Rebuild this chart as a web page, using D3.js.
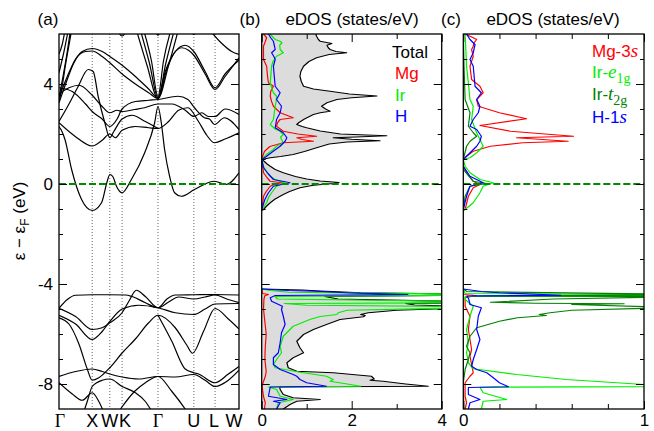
<!DOCTYPE html>
<html><head><meta charset="utf-8">
<script src="https://cdn.jsdelivr.net/npm/d3@7"></script>
<style>
body{margin:0;background:#fff}
svg{display:block}
</style>
</head><body>
<svg id="chart" width="654" height="431"></svg>
<script>
// ---------------- DATA ----------------
const kPoints = [0, 1.0, 1.53, 1.9, 2.98, 4.06, 4.7, 5.42];
const kLabels = ["Γ", "X", "W", "K", "Γ", "U", "L", "W"];
const yMajorTicks = [-8, -4, 0, 4];
const dosTicksB = [0, 2, 4];
const dosTicksC = [0, 1];

// band structure, lower (Ir-d / H-s) manifold: [k, E]
const bandsLower = [
  [[0,-4.97],[0.25,-4.62],[0.5,-4.45],[1,-4.43],[1.53,-4.43],[2.0,-4.44],[2.2,-4.5],[2.6,-4.75],[2.98,-4.95],[3.25,-4.6],[3.5,-4.44],[4.06,-4.43],[4.7,-4.42],[5.42,-4.44]],
  [[0,-4.97],[0.5,-5.3],[1.0,-5.82],[1.3,-5.75],[1.53,-5.55],[1.9,-5.15],[2.1,-4.7],[2.33,-4.25],[2.6,-4.5],[2.98,-4.95],[3.3,-4.72],[3.6,-4.52],[4.06,-4.6],[4.4,-4.52],[4.7,-4.44],[5.05,-4.6],[5.42,-4.75]],
  [[0,-5.25],[0.5,-5.6],[1.0,-6.22],[1.3,-5.9],[1.53,-5.5],[1.9,-5.0],[2.4,-4.85],[2.98,-4.95],[3.5,-5.15],[4.06,-5.22],[4.4,-5.0],[4.7,-4.8],[5.42,-4.78]],
  [[0,-5.35],[0.3,-5.6],[0.6,-6.4],[0.85,-7.4],[1.0,-7.85],[1.2,-7.75],[1.53,-7.35],[1.9,-6.76],[2.3,-6.2],[2.7,-5.55],[2.98,-5.25],[3.5,-5.75],[3.85,-6.45],[4.02,-6.77],[4.35,-5.9],[4.7,-4.98],[5.1,-5.4],[5.42,-5.8]],
  [[2.98,-5.25],[3.4,-6.3],[3.8,-7.4],[4.06,-7.55],[4.2,-7.6],[4.7,-7.95],[5.1,-7.6],[5.42,-7.3]],
  [[0,-7.7],[0.5,-7.5],[1.0,-7.4],[1.3,-7.5],[1.53,-7.6],[1.9,-7.72],[2.4,-7.8],[2.98,-7.7],[3.5,-7.72],[4.06,-7.62],[4.4,-7.85],[4.7,-8.1],[5.1,-7.85],[5.42,-7.45]],
  [[0,-7.95],[0.4,-8.4],[0.7,-8.65],[1.0,-8.35],[1.2,-8.7],[1.4,-9.3]],
  [[0.7,-9.3],[0.85,-8.7],[1.0,-8.1],[1.3,-7.85],[1.53,-7.8],[1.9,-8.1],[2.3,-8.35],[2.6,-8.7],[2.8,-9.1],[2.9,-9.3]],
  [[1.7,-9.3],[1.88,-8.95],[2.28,-8.29],[2.6,-7.95],[2.98,-7.7],[3.4,-8.3],[3.8,-9.0],[4.0,-9.4]]
];

// band structure, upper manifold: [k, E]
const bandsUpper = [
  [[0,2.3],[0.06,2.18],[0.18,1.78],[0.38,0.58],[0.68,-0.62],[1.0,-1.06],[1.28,-0.75],[1.45,0.1],[1.53,0.38],[1.62,0.3],[1.73,-0.09],[1.9,-0.35],[2.18,0.18],[2.58,1.25],[2.88,2.45],[2.98,3.1],[3.08,2.45],[3.18,1.38],[3.33,0.31],[3.48,-0.35],[3.68,-0.49],[4.08,-0.22],[4.68,0.11],[5.03,-0.02],[5.42,0.45]],
  [[0,2.45],[0.48,1.91],[1.0,1.52],[1.3,1.75],[1.53,2.0],[1.7,1.85],[1.9,2.15],[2.3,2.3],[2.7,2.25],[2.98,2.22],[3.3,2.5],[3.6,2.95],[3.88,3.05],[4.2,2.5],[4.45,1.95],[4.68,1.65],[5.0,1.8],[5.42,2.05]],
  [[0,2.5],[0.3,3.2],[0.58,3.91],[0.88,4.58],[1.03,4.5],[1.18,3.5],[1.38,2.45],[1.53,1.85],[1.65,2.1],[1.9,2.6],[2.2,2.75],[2.6,2.5],[2.98,2.22]],
  [[0,3.6],[0.3,3.85],[0.6,3.95],[1.0,3.55],[1.3,3.1],[1.53,2.85],[1.75,2.95],[1.9,2.9],[2.28,2.98],[2.58,3.05],[2.98,3.2],[3.4,3.2],[3.8,2.95],[4.06,2.7],[4.3,2.85],[4.5,2.7],[4.7,2.7],[5.0,3.0],[5.42,2.78]],
  [[0,3.85],[0.4,3.7],[0.8,3.2],[1.0,2.9],[1.3,2.6],[1.53,2.3],[1.75,2.6],[1.9,3.0],[2.3,3.3],[2.7,3.35],[2.98,3.38],[3.58,3.51],[3.88,3.38],[4.08,3.05],[4.38,2.65],[4.53,2.6],[4.68,2.38],[4.98,2.65],[5.42,2.18]],
  [[0,3.25],[0.2,4.0],[0.45,4.85],[0.7,5.3],[1.0,5.42],[1.3,5.3],[1.53,5.1],[1.9,4.75],[2.3,4.3],[2.7,3.8],[2.98,3.45],[3.2,4.5],[3.45,5.2],[3.7,5.45],[3.9,5.35],[4.06,5.15],[4.4,4.4],[4.7,3.78],[5.0,4.3],[5.42,5.05]],
  [[0,3.45],[0.25,4.3],[0.5,5.0],[0.8,5.3],[1.0,5.32],[1.3,5.1],[1.53,4.85],[1.9,4.4],[2.3,4.0],[2.7,3.65],[2.98,3.42],[3.25,4.6],[3.5,5.3],[3.8,5.55],[4.06,5.3],[4.4,4.5],[4.7,3.85],[5.0,4.4],[5.42,4.95]],
  [[0,3.25],[0.1,3.95],[0.2,4.8],[0.32,5.7],[0.4,6.3]],
  [[0,3.45],[0.12,4.3],[0.25,5.3],[0.36,6.3]],
  [[0,4.45],[0.15,5.3],[0.3,6.3]],
  [[0,5.2],[0.1,5.6],[0.2,6.3]],
  [[1.7,6.3],[1.9,5.92],[2.1,6.3]],
  [[2.3,6.3],[2.65,4.75],[2.98,3.42],[3.3,4.75],[3.62,6.3]],
  [[2.42,6.3],[2.72,4.85],[2.98,3.45],[3.22,4.85],[3.5,6.3]],
  [[2.52,6.3],[2.78,4.95],[2.98,3.5],[3.15,4.95],[3.4,6.3]],
  [[2.86,6.3],[2.98,5.95],[3.1,6.3]],
  [[3.9,6.3],[4.06,5.98],[4.22,6.3]],
  [[4.45,6.3],[4.88,5.65],[5.2,5.3],[5.42,5.18]]
];

// eDOS panel (b): [E, states/eV]; null separates the two manifolds
const totalDOS = [[6.0,1.2],[5.91,1.22],[5.78,1.26],[5.71,1.3],[5.62,1.56],[5.55,1.45],[5.45,1.48],[5.38,1.52],[5.3,1.65],[5.25,1.89],[5.18,1.5],[5.05,1.22],[4.9,1.05],[4.71,0.93],[4.5,0.87],[4.31,0.85],[4.1,0.88],[3.91,0.93],[3.8,1.15],[3.71,1.52],[3.6,1.95],[3.52,2.56],[3.45,2.0],[3.38,1.67],[3.25,1.45],[3.11,1.33],[3.0,1.42],[2.91,1.52],[2.85,1.3],[2.78,1.15],[2.6,0.95],[2.45,0.82],[2.38,0.78],[2.3,0.9],[2.25,1.0],[2.12,1.3],[2.0,1.75],[1.93,2.78],[1.88,2.1],[1.85,1.59],[1.79,2.0],[1.73,2.63],[1.68,1.9],[1.6,1.5],[1.45,1.22],[1.3,0.95],[1.18,0.7],[1.1,0.42],[1.05,0.19],[1.0,0.05],[0.97,0.01],[0.9,0.06],[0.8,0.12],[0.71,0.19],[0.58,0.3],[0.45,0.48],[0.3,0.75],[0.2,1.0],[0.12,1.3],[0.06,1.72],[0.02,1.6],[-0.05,1.15],[-0.15,0.85],[-0.3,0.62],[-0.42,0.48],[-0.6,0.3],[-0.75,0.19],[-0.9,0.1],[-1.02,0.04],[-1.06,0],
  null,
  [-4.2,0],[-4.24,0.9],[-4.28,1.3],[-4.35,2.2],[-4.4,4.5],[-4.45,4.5],[-4.5,1.4],[-4.6,1.7],[-4.7,4.5],[-4.75,4.5],[-4.78,3.2],[-4.84,3.4],[-4.9,4.5],[-4.96,4.5],[-5.05,3.0],[-5.15,2.37],[-5.22,2.2],[-5.26,2.3],[-5.31,2.26],[-5.42,1.74],[-5.62,1.44],[-5.82,1.15],[-6.02,0.93],[-6.29,0.78],[-6.55,0.85],[-6.75,0.93],[-6.95,0.7],[-7.15,0.56],[-7.35,0.59],[-7.49,0.78],[-7.55,1.59],[-7.69,2.44],[-7.8,2.5],[-7.85,2.41],[-7.89,2.7],[-8.0,3.2],[-8.09,3.7],[-8.12,0.4],[-8.22,0.41],[-8.42,0.48],[-8.55,0.7],[-8.62,1.3],[-8.69,0.78],[-8.82,0.63],[-9.0,0.48]];

const mgDOS = [[6.0,0.04],[5.85,0.11],[5.75,0.09],[5.65,0.07],[5.51,0.04],[4.98,0.04],[4.71,0.11],[4.3,0.13],[4.05,0.15],[3.91,0.26],[3.7,0.2],[3.51,0.19],[3.3,0.22],[3.11,0.26],[2.85,0.41],[2.72,0.6],[2.65,0.7],[2.58,0.41],[2.45,0.35],[2.31,0.33],[2.11,0.48],[2.0,0.8],[1.91,1.22],[1.85,0.78],[1.78,0.9],[1.71,1.15],[1.65,0.48],[1.5,0.18],[1.3,0.06],[1.1,0.02],[0.98,0],[0.6,0.03],[0.45,0.04],[0.25,0.12],[0.11,0.19],[0.05,0.45],[0.0,0.3],[-0.09,0.19],[-0.3,0.1],[-0.49,0.04],[-0.8,0.02],[-1.02,0],
  null,
  [-4.2,0],[-4.38,0.02],[-4.42,0.15],[-4.47,0.07],[-4.6,0.05],[-5.0,0.04],[-5.5,0.07],[-6.0,0.1],[-6.5,0.08],[-7.0,0.07],[-7.5,0.1],[-7.7,0.08],[-7.95,0.03],[-8.1,0.01],[-8.5,0.04],[-8.75,0.08],[-9.0,0.06]];

const irDOS = [[6.0,0.19],[5.85,0.26],[5.78,0.3],[5.71,0.41],[5.65,0.45],[5.55,0.4],[5.38,0.41],[5.25,0.48],[5.11,0.33],[4.9,0.25],[4.71,0.22],[4.05,0.19],[3.8,0.23],[3.65,0.26],[3.51,0.33],[3.3,0.32],[3.11,0.3],[2.85,0.28],[2.58,0.26],[2.38,0.19],[2.2,0.3],[2.11,0.41],[1.98,0.48],[1.88,0.42],[1.78,0.44],[1.65,0.48],[1.51,0.33],[1.38,0.26],[1.2,0.12],[1.05,0.04],[0.98,0],[0.71,0.04],[0.45,0.12],[0.31,0.19],[0.18,0.3],[0.11,0.41],[0.05,0.5],[-0.02,0.42],[-0.09,0.33],[-0.35,0.22],[-0.55,0.15],[-0.75,0.11],[-0.9,0.05],[-1.02,0],
  null,
  [-4.2,0],[-4.26,0.2],[-4.33,0.6],[-4.4,4.5],[-4.45,4.5],[-4.5,0.3],[-4.6,0.35],[-4.7,4.5],[-4.75,4.5],[-4.78,0.5],[-4.85,1.0],[-4.9,4.5],[-4.96,4.5],[-5.05,1.9],[-5.15,1.7],[-5.22,1.67],[-5.3,1.3],[-5.42,1.07],[-5.69,0.7],[-6.09,0.48],[-6.49,0.41],[-6.75,0.44],[-7.02,0.33],[-7.22,0.26],[-7.35,0.3],[-7.53,0.85],[-7.69,1.44],[-7.82,1.59],[-7.89,1.52],[-8.0,1.9],[-8.09,2.2],[-8.12,0.15],[-8.22,0.33],[-8.49,0.41],[-8.62,0.7],[-8.75,0.37],[-9.0,0.33]];

const hDOS = [[6.0,0.15],[5.85,0.2],[5.71,0.26],[5.55,0.28],[5.38,0.3],[5.25,0.22],[5.1,0.27],[4.98,0.3],[4.71,0.26],[4.3,0.28],[3.91,0.3],[3.65,0.41],[3.38,0.33],[3.11,0.44],[2.85,0.41],[2.58,0.33],[2.25,0.3],[2.05,0.48],[1.85,0.56],[1.71,0.52],[1.51,0.41],[1.3,0.25],[1.11,0.11],[0.98,0],[0.65,0.04],[0.4,0.15],[0.18,0.26],[0.05,0.63],[-0.09,0.26],[-0.35,0.15],[-0.62,0.07],[-1.02,0],
  null,
  [-4.2,0],[-4.26,0.6],[-4.29,1.2],[-4.36,2.0],[-4.42,3.25],[-4.46,0.3],[-4.55,0.19],[-4.69,0.22],[-4.89,0.46],[-5.02,0.44],[-5.29,0.48],[-5.62,0.52],[-5.95,0.44],[-6.35,0.41],[-6.75,0.37],[-6.95,0.26],[-7.22,0.26],[-7.42,0.41],[-7.62,0.7],[-7.69,0.78],[-7.82,0.85],[-7.95,1.0],[-8.09,1.44],[-8.12,0.19],[-8.49,0.15],[-8.62,0.56],[-8.69,0.26],[-8.75,0.41],[-9.0,0.33]];

// eDOS panel (c): projected orbitals [E, states/eV]
const mg3sDOS = [[6.0,0.01],[5.85,0.055],[5.78,0.074],[5.65,0.06],[5.51,0.055],[5.38,0.046],[5.11,0.055],[4.71,0.037],[4.18,0.046],[3.91,0.092],[3.65,0.11],[3.38,0.074],[3.11,0.083],[2.85,0.2],[2.61,0.35],[2.34,0.092],[2.11,0.26],[1.91,0.61],[1.85,0.295],[1.71,0.58],[1.65,0.33],[1.51,0.15],[1.31,0.055],[1.11,0.018],[0.98,0],[0.71,0],[0.45,0.018],[0.11,0.055],[-0.02,0.092],[-0.15,0.055],[-0.49,0.028],[-1.02,0.01],[-1.06,0],
  null,
  [-4.2,0],[-4.42,0.0],[-4.46,0.074],[-4.55,0.01],[-4.89,0.01],[-5.29,0.037],[-5.82,0.028],[-6.62,0.046],[-6.89,0.037],[-7.55,0.055],[-7.69,0.037],[-7.95,0.01],[-8.49,0.01],[-8.75,0.018],[-9.0,0.01]];

const irE1gDOS = [[6.0,0.01],[4.71,0.018],[4.05,0.028],[3.38,0.037],[3.11,0.055],[2.58,0.046],[2.05,0.074],[1.78,0.092],[1.51,0.11],[1.25,0.074],[1.05,0.037],[0.98,0],[0.71,0.01],[0.45,0.037],[0.18,0.092],[0.05,0.166],[-0.09,0.11],[-0.35,0.092],[-0.75,0.055],[-1.02,0.01],[-1.06,0],
  null,
  [-4.2,0],[-4.38,0.01],[-4.42,1.05],[-4.45,1.05],[-4.5,0.01],[-4.62,0.01],[-4.89,0.055],[-5.29,0.037],[-5.82,0.018],[-6.35,0.028],[-6.75,0.018],[-7.15,0.028],[-7.39,0.055],[-7.62,0.295],[-7.82,0.57],[-8.02,1.0],[-8.1,1.05],[-8.13,0.092],[-8.35,0.11],[-8.62,0.24],[-8.69,0.11],[-9.0,0.1]];

const irT2gDOS = [[6.0,0],[4.71,0.004],[3.38,0.01],[2.85,0.037],[2.31,0.028],[2.05,0.055],[1.91,0.074],[1.71,0.037],[1.51,0.018],[0.98,0],[0.58,0],[0.11,0.055],[0.02,0.13],[-0.09,0.037],[-0.49,0.01],[-1.02,0],
  null,
  [-4.2,0],[-4.3,0.02],[-4.4,1.05],[-4.43,1.05],[-4.48,0.05],[-4.5,1.05],[-4.53,1.05],[-4.6,0.5],[-4.73,0.15],[-4.77,0.4],[-4.79,0.89],[-4.82,0.6],[-4.92,1.05],[-4.97,1.05],[-5.05,0.6],[-5.15,0.48],[-5.22,0.42],[-5.26,0.46],[-5.35,0.3],[-5.49,0.2],[-5.75,0.074],[-6.09,0.037],[-6.49,0.018],[-6.75,0.037],[-7.02,0.028],[-7.42,0.01],[-7.95,0],[-9.0,0.003]];

const h1sDOS = [[6.0,0.018],[5.78,0.037],[5.58,0.065],[5.25,0.055],[4.98,0.037],[4.71,0.055],[3.91,0.065],[3.65,0.1],[3.38,0.074],[3.11,0.092],[2.85,0.083],[2.58,0.055],[2.31,0.037],[2.18,0.074],[1.91,0.1],[1.71,0.092],[1.51,0.074],[1.11,0.018],[0.98,0],[0.71,0],[0.31,0.037],[0.05,0.11],[-0.09,0.037],[-0.49,0.018],[-1.02,0],
  null,
  [-4.2,0],[-4.3,0.1],[-4.35,0.2],[-4.45,0.54],[-4.48,0.02],[-4.6,0.03],[-4.82,0.037],[-4.95,0.1],[-5.29,0.083],[-5.82,0.074],[-6.22,0.092],[-6.62,0.074],[-7.02,0.055],[-7.29,0.046],[-7.42,0.074],[-7.55,0.13],[-7.75,0.166],[-7.95,0.2],[-8.11,0.25],[-8.14,0.028],[-8.42,0.028],[-8.62,0.092],[-8.75,0.037],[-9.0,0.028]];

// ---------------- DRAWING ----------------
const SANS = "'Liberation Sans', Arial, Helvetica, sans-serif";
const SERIF = "'Liberation Serif', 'Times New Roman', serif";
const svg = d3.select("#chart");
const plotTop = 34, plotBottom = 409;
const yE = d3.scaleLinear().domain([-9, 6]).range([plotBottom, plotTop]);
const xK = d3.scaleLinear().domain([0, 5.42]).range([59, 239]);
const xB = d3.scaleLinear().domain([0, 4]).range([261.7, 441.7]);
const xC = d3.scaleLinear().domain([0, 1]).range([463.3, 644]);

const defs = svg.append("defs");
function makeClip(id, sx) {
  const [x0, x1] = sx.range();
  defs.append("clipPath").attr("id", id).append("rect")
    .attr("x", x0).attr("y", plotTop).attr("width", x1 - x0).attr("height", plotBottom - plotTop);
}
makeClip("clipA", xK); makeClip("clipB", xB); makeClip("clipC", xC);

// ---- panel (a): band structure
const gA = svg.append("g").attr("clip-path", "url(#clipA)");
gA.selectAll("line.hs").data(kPoints.slice(1, -1)).join("line")
  .attr("x1", d => xK(d)).attr("x2", d => xK(d)).attr("y1", plotTop).attr("y2", plotBottom)
  .attr("stroke", "#555").attr("stroke-width", 0.9).attr("stroke-dasharray", "1,2");
const bandLine = d3.line().x(d => xK(d[0])).y(d => yE(d[1])).curve(d3.curveMonotoneX);
gA.selectAll("path.band").data(bandsLower.concat(bandsUpper)).join("path")
  .attr("d", bandLine).attr("fill", "none").attr("stroke", "#000").attr("stroke-width", 1.2);

// ---- panel (b)
const gB = svg.append("g").attr("clip-path", "url(#clipB)");
const areaB = d3.area().defined(d => d).y(d => yE(d[0])).x0(xB(0)).x1(d => xB(d[1]));
gB.append("path").datum(totalDOS).attr("d", areaB).attr("fill", "#dcdcdc");
const lineB = d3.line().defined(d => d).y(d => yE(d[0])).x(d => xB(d[1]));
[[totalDOS, "#000"], [mgDOS, "#ff0000"], [irDOS, "#00ee00"], [hDOS, "#0000ff"]].forEach(([arr, col]) => {
  gB.append("path").datum(arr).attr("d", lineB).attr("fill", "none")
    .attr("stroke", col).attr("stroke-width", 1.2).attr("stroke-linejoin", "round");
});

// ---- panel (c)
const gC = svg.append("g").attr("clip-path", "url(#clipC)");
const lineC = d3.line().defined(d => d).y(d => yE(d[0])).x(d => xC(d[1]));
[[mg3sDOS, "#ff0000"], [irE1gDOS, "#00ee00"], [irT2gDOS, "#008000"], [h1sDOS, "#0000ff"]].forEach(([arr, col]) => {
  gC.append("path").datum(arr).attr("d", lineC).attr("fill", "none")
    .attr("stroke", col).attr("stroke-width", 1.2).attr("stroke-linejoin", "round");
});

// ---- Fermi level
[xK, xB, xC].forEach(sx => {
  svg.append("line").attr("x1", sx.range()[0]).attr("x2", sx.range()[1])
    .attr("y1", yE(0)).attr("y2", yE(0))
    .attr("stroke", "#008a00").attr("stroke-width", 2).attr("stroke-dasharray", "7,3");
});

// ---- frames & ticks
const yMinor = d3.range(-8, 6).filter(v => v % 4 !== 0);
function styleAxis(g) {
  g.select(".domain").remove();
  g.attr("font-family", SANS).attr("font-size", 17);
  g.selectAll("line").attr("stroke", "#000").attr("stroke-width", 1);
  g.selectAll("text").attr("fill", "#000");
}
function yAxes(sx, labels) {
  const [x0, x1] = sx.range();
  svg.append("g").attr("transform", `translate(${x0},0)`)
    .call(d3.axisLeft(yE).tickValues(yMajorTicks).tickSize(-8).tickPadding(6)
      .tickFormat(labels ? (d => String(d)) : (() => ""))).call(styleAxis);
  svg.append("g").attr("transform", `translate(${x0},0)`)
    .call(d3.axisLeft(yE).tickValues(yMinor).tickSize(-4).tickFormat(() => "")).call(styleAxis);
  svg.append("g").attr("transform", `translate(${x1},0)`)
    .call(d3.axisRight(yE).tickValues(yMajorTicks).tickSize(-8).tickFormat(() => "")).call(styleAxis);
  svg.append("g").attr("transform", `translate(${x1},0)`)
    .call(d3.axisRight(yE).tickValues(yMinor).tickSize(-4).tickFormat(() => "")).call(styleAxis);
  svg.append("rect").attr("x", x0).attr("y", plotTop).attr("width", x1 - x0).attr("height", plotBottom - plotTop)
    .attr("fill", "none").attr("stroke", "#000").attr("stroke-width", 1.3);
}
yAxes(xK, true); yAxes(xB, false); yAxes(xC, false);

function xAxes(sx, major, minor) {
  svg.append("g").attr("transform", `translate(0,${plotBottom})`)
    .call(d3.axisBottom(sx).tickValues(major).tickSize(-8).tickPadding(5).tickFormat(d => String(d))).call(styleAxis);
  svg.append("g").attr("transform", `translate(0,${plotBottom})`)
    .call(d3.axisBottom(sx).tickValues(minor).tickSize(-5).tickFormat(() => "")).call(styleAxis);
  svg.append("g").attr("transform", `translate(0,${plotTop})`)
    .call(d3.axisTop(sx).tickValues(major).tickSize(-8).tickFormat(() => "")).call(styleAxis);
  svg.append("g").attr("transform", `translate(0,${plotTop})`)
    .call(d3.axisTop(sx).tickValues(minor).tickSize(-5).tickFormat(() => "")).call(styleAxis);
}
xAxes(xB, dosTicksB, [1, 3]);
xAxes(xC, dosTicksC, [0.2, 0.4, 0.6, 0.8]);

// k-path labels
const labelShift = [1, 0, 0, 3, 0, 0, -1, -5];
svg.selectAll("text.klab").data(kPoints).join("text")
  .attr("x", (d, i) => xK(d) + labelShift[i]).attr("y", 427)
  .attr("text-anchor", "middle").attr("font-size", 18)
  .attr("font-family", (d, i) => kLabels[i] === "Γ" ? SERIF : SANS)
  .text((d, i) => kLabels[i]);

// y-axis title
const yt = svg.append("text").attr("transform", "translate(25,221) rotate(-90)")
  .attr("text-anchor", "middle").attr("font-family", SANS).attr("font-size", 17);
yt.append("tspan").text("ε − ε");
yt.append("tspan").text("F").attr("font-size", 12).attr("dy", 4);
yt.append("tspan").text(" (eV)").attr("dy", -4);

// panel titles
const title = (x, t) => svg.append("text").attr("x", x).attr("y", 25)
  .attr("text-anchor", "middle").attr("font-family", SANS).attr("font-size", 17).text(t);
title(48, "(a)"); title(250, "(b)"); title(451, "(c)");
title(352, "eDOS (states/eV)"); title(553, "eDOS (states/eV)");

// legend (b)
[["Total", "#000", 392, 58], ["Mg", "#ff0000", 395, 79], ["Ir", "#00ee00", 395, 101], ["H", "#0000ff", 395, 122]]
  .forEach(([t, c, x, y]) => svg.append("text").attr("x", x).attr("y", y).attr("fill", c)
    .attr("font-family", SANS).attr("font-size", 17).text(t));

// legend (c)
function legC(y, col, pre, ital, sub) {
  const t = svg.append("text").attr("x", 592).attr("y", y).attr("fill", col)
    .attr("font-family", SANS).attr("font-size", 17);
  t.append("tspan").text(pre);
  t.append("tspan").text(ital).attr("font-family", SERIF).attr("font-style", "italic").attr("font-size", 19);
  if (sub) t.append("tspan").text(sub).attr("font-family", SERIF).attr("font-size", 14).attr("dy", 5);
}
legC(57, "#ff0000", "Mg-3", "s", null);
legC(78, "#00ee00", "Ir-", "e", "1g");
legC(100, "#008000", "Ir-", "t", "2g");
legC(123, "#0000ff", "H-1", "s", null);
</script>
</body></html>
